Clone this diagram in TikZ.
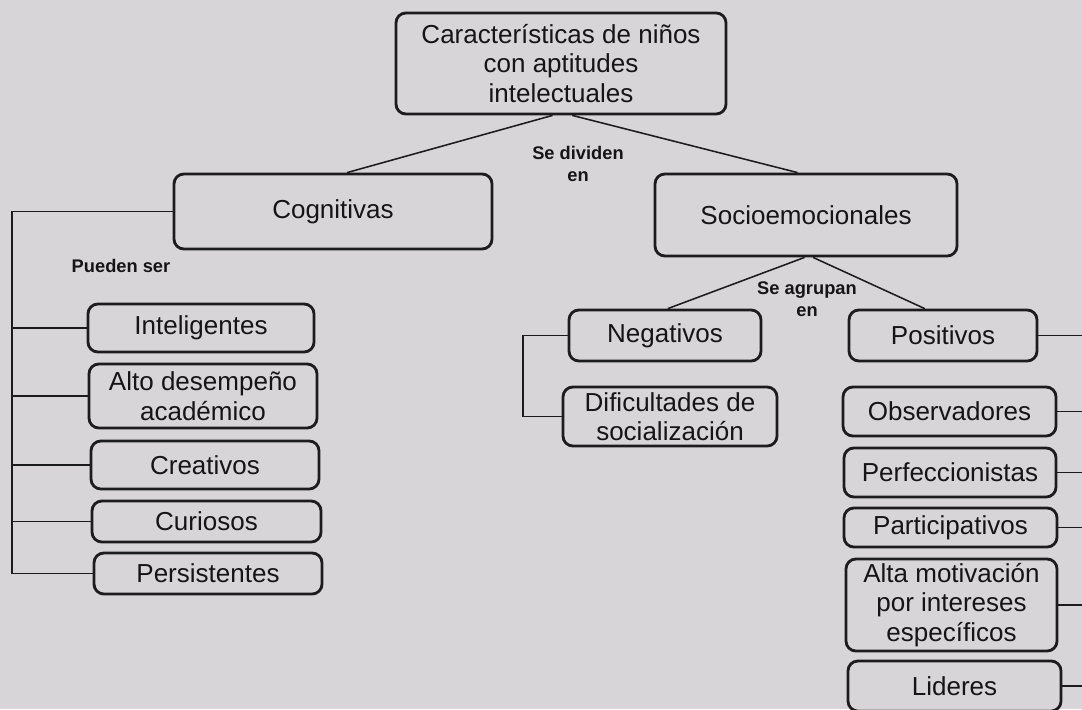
\documentclass[tikz,border=0pt]{standalone}
\usepackage{fontspec}
\setmainfont{Liberation Sans}
\definecolor{paper}{HTML}{D8D5D9}
\definecolor{inkline}{HTML}{1C1B1D}
\definecolor{inktext}{HTML}{151416}

\begin{document}
\begin{tikzpicture}[x=0.025cm, y=-0.025cm,
        box/.style={draw=inkline, line width=2pt, rounded corners=7pt, align=center,
            inner sep=2pt, text=inktext, font=\fontsize{18.5}{21}\selectfont},
        sz/.style 2 args={minimum width=#1*0.025cm, minimum height=#2*0.025cm},
        lbl/.style={align=center, inner sep=0pt, text=inktext,
            font=\bfseries\fontsize{13}{15.5}\selectfont},
        wire/.style={draw=inkline, line width=1.1pt}]
    \fill[paper] (0,0) rectangle (1082,709);
    \useasboundingbox (0,0) rectangle (1082,709);

    \node[box, sz={330}{101}] (top) at (561,63.5) {Características de niños\\con aptitudes\\intelectuales};
    \node[box, sz={318}{75}] (cog) at (333,211.5) {Cognitivas};
    \node[box, sz={302}{82}] (soc) at (806,215) {Socioemocionales};

    % cognitivas
    \node[box, sz={226}{48}] (int) at (201,328) {Inteligentes};
    \node[box, sz={228}{64}] (alto) at (203,396) {Alto desempeño\\académico};
    \node[box, sz={228}{48}] (crea) at (205,465) {Creativos};
    \node[box, sz={229}{41}] (curi) at (206.5,521.5) {Curiosos};
    \node[box, sz={228}{41}] (pers) at (208,573.5) {Persistentes};

    % socioemocionales
    \node[box, sz={192}{51}] (neg) at (665,335.5) {Negativos};
    \node[box, sz={214}{59}] (dif) at (670,416.5) {Dificultades de\\socialización};
    \node[box, sz={188}{51}] (pos) at (943,335.5) {Positivos};
    \node[box, sz={213}{49}] (obs) at (949.5,411.5) {Observadores};
    \node[box, sz={212}{49}] (perf) at (950,472.5) {Perfeccionistas};
    \node[box, sz={213}{39}] (part) at (950.5,527.5) {Participativos};
    \node[box, sz={211}{92}] (alta) at (951.5,605) {Alta motivación\\por intereses\\específicos};
    \node[box, sz={213}{50}] (lid) at (954.5,686) {Lideres};

    \node[lbl] (divide) at (578,164) {Se dividen\\en};
    \node[lbl] (agrupa) at (807,299) {Se agrupan\\en};
    \node[lbl] (pueden) at (121,266) {Pueden ser};

    \draw[wire] ([xshift=-6pt]top.south) -- ([xshift=10pt]cog.north);
    \draw[wire] ([xshift=8pt]top.south) -- ([xshift=-6pt]soc.north);
    \draw[wire] ([xshift=-1pt]soc.south) -- ([xshift=2pt]neg.north);
    \draw[wire] ([xshift=5pt]soc.south) -- ([xshift=-13pt]pos.north);

    \coordinate (cogbar) at (12,0);
    \draw[wire] (cog.west) -- (cog.west -| cogbar) -- (pers.west -| cogbar) -- (pers.west);
    \foreach \n in {int,alto,crea,curi}
        \draw[wire] (\n.west -| cogbar) -- (\n.west);

    \coordinate (negbar) at (523,0);
    \draw[wire] (neg.west) -- (neg.west -| negbar) -- (dif.west -| negbar) -- (dif.west);

    \coordinate (posbar) at (1082,0);
    \foreach \n in {pos,obs,perf,part,alta,lid}
        \draw[wire] (\n.east) -- (\n.east -| posbar);
\end{tikzpicture}
\end{document}
